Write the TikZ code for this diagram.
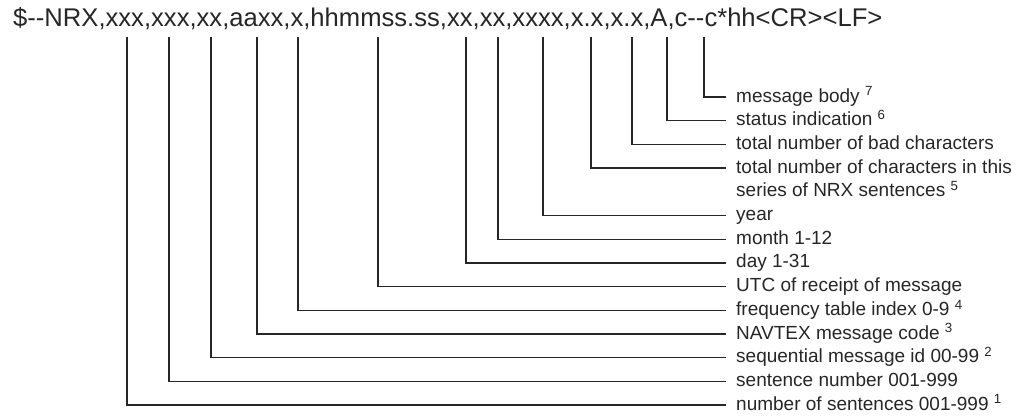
\documentclass[tikz,border=0pt]{standalone}
\usepackage{fontspec}
\setmainfont{Liberation Sans}
\usetikzlibrary{positioning}

\tikzset{
  field/.style={anchor=base west, inner sep=0pt, text=black!85,
    font=\fontsize{25.6}{30}\selectfont},
  lbl/.style={anchor=west, inner xsep=10pt, inner ysep=0pt,
    text height=10pt, text depth=0pt, text=black!85,
    font=\fontsize{19}{23}\selectfont},
  lead/.style={line width=1.4pt, black!85},
}

\begin{document}
\begin{tikzpicture}[x=1pt, y=-1pt]
  \useasboundingbox (0,0) rectangle (1023,416);

  % Sentence format
  \node[field] (head) at (13,26)
    {\$-\kern0pt-NRX,xxx,xxx,xx,aaxx,x,hhmmss.ss,xx,xx,xxxx,x.x,x.x,A,c-\kern0pt-c*hh<CR><LF>};

  % Field positions under the header
  \coordinate (cnum) at (127,37);
  \coordinate (csen) at (169,37);
  \coordinate (cseq) at (211,37);
  \coordinate (cnav) at (257,37);
  \coordinate (cfrq) at (298,37);
  \coordinate (cutc) at (378,37);
  \coordinate (cday) at (466,37);
  \coordinate (cmon) at (498,37);
  \coordinate (cyear) at (543,37);
  \coordinate (ctot) at (591,37);
  \coordinate (cbad) at (632,37);
  \coordinate (cstat) at (667,37);
  \coordinate (cbody) at (704,37);

  % Field descriptions
  \node[lbl] (body) at (726,97) {message body \textsuperscript{7}};
  \node[lbl] (stat) at (726,120.7) {status indication \textsuperscript{6}};
  \node[lbl] (bad) at (726,144.4) {total number of bad characters};
  \node[lbl] (tot) at (726,168.1) {total number of characters in this};
  \node[lbl] (series) at (726,191.8) {series of NRX sentences \textsuperscript{5}};
  \node[lbl] (year) at (726,215.5) {year};
  \node[lbl] (mon) at (726,239.2) {month 1-12};
  \node[lbl] (day) at (726,262.9) {day 1-31};
  \node[lbl] (utc) at (726,286.6) {UTC of receipt of message};
  \node[lbl] (frq) at (726,310.3) {frequency table index 0-9 \textsuperscript{4}};
  \node[lbl] (nav) at (726,334) {NAVTEX message code \textsuperscript{3}};
  \node[lbl] (seq) at (726,357.7) {sequential message id 00-99 \textsuperscript{2}};
  \node[lbl] (sen) at (726,381.4) {sentence number 001-999};
  \node[lbl] (num) at (726,405.1) {number of sentences 001-999 \textsuperscript{1}};

  % Leaders
  \draw[lead] (cbody) |- (body.west);
  \draw[lead] (cstat) |- (stat.west);
  \draw[lead] (cbad) |- (bad.west);
  \draw[lead] (ctot) |- (tot.west);
  \draw[lead] (cyear) |- (year.west);
  \draw[lead] (cmon) |- (mon.west);
  \draw[lead] (cday) |- (day.west);
  \draw[lead] (cutc) |- (utc.west);
  \draw[lead] (cfrq) |- (frq.west);
  \draw[lead] (cnav) |- (nav.west);
  \draw[lead] (cseq) |- (seq.west);
  \draw[lead] (csen) |- (sen.west);
  \draw[lead] (cnum) |- (num.west);
\end{tikzpicture}
\end{document}
